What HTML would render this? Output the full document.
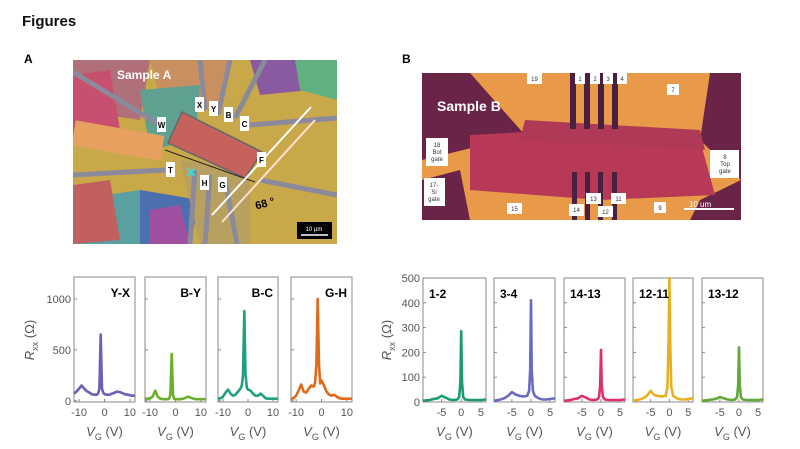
<!DOCTYPE html>
<html><head><meta charset="utf-8">
<style>
body{margin:0;background:#fff;width:800px;height:449px;overflow:hidden;font-family:"Liberation Sans",sans-serif;}
svg{position:absolute;left:0;top:0}
</style></head>
<body>
<svg id="fig" width="800" height="449" xmlns="http://www.w3.org/2000/svg">
<text x="22" y="26" font-size="15" font-weight="bold" fill="#111">Figures</text>
<text x="24" y="63" font-size="12" font-weight="bold">A</text>
<text x="402" y="63" font-size="12" font-weight="bold">B</text>
<!-- Sample A micrograph -->
<g>
<clipPath id="ca"><rect x="73" y="60" width="264" height="184"/></clipPath>
<g clip-path="url(#ca)">
<rect x="73" y="60" width="264" height="184" fill="#c9a84a"/>
<polygon points="73,60 150,60 140,120 73,110" fill="#b0707a"/>
<polygon points="73,75 110,70 120,130 73,140" fill="#c8506e"/>
<polygon points="150,60 230,60 220,110 160,100" fill="#c89060"/>
<polygon points="250,60 300,60 310,90 260,95" fill="#8a5aa0"/>
<polygon points="295,60 337,60 337,100 300,90" fill="#60b080"/>
<polygon points="140,90 200,85 195,140 150,150" fill="#60a090"/>
<polygon points="73,200 140,190 150,244 73,244" fill="#5aa0a0"/>
<polygon points="140,190 200,200 190,244 140,244" fill="#4a70b0"/>
<polygon points="150,210 180,205 190,244 150,244" fill="#a050a0"/>
<polygon points="180,160 250,170 250,244 200,244" fill="#b8a060"/>
<polygon points="73,185 110,180 120,240 73,244" fill="#c06060"/>
<rect x="73" y="128" width="90" height="25" fill="#e8a060" transform="rotate(10 118 140)"/>
<g stroke="#8a8a9a" stroke-width="5" fill="none">
<line x1="73" y1="72" x2="160" y2="125"/><line x1="73" y1="175" x2="165" y2="170"/>
<line x1="200" y1="60" x2="205" y2="110"/><line x1="230" y1="60" x2="218" y2="115"/>
<line x1="265" y1="60" x2="235" y2="118"/><line x1="250" y1="125" x2="337" y2="118"/>
<line x1="190" y1="244" x2="195" y2="170"/><line x1="205" y1="244" x2="210" y2="175"/>
<line x1="237" y1="244" x2="225" y2="180"/><line x1="260" y1="180" x2="337" y2="195"/>
</g>
<polygon points="182,112 262,152 245,178 168,143" fill="#c5625e" stroke="#666" stroke-width="1.5"/>
<line x1="165" y1="150" x2="255" y2="182" stroke="#222" stroke-width="1"/>
<line x1="212" y1="215" x2="311" y2="107" stroke="#fff" stroke-width="2"/>
<line x1="222" y1="222" x2="315" y2="120" stroke="#ffe0d0" stroke-width="2"/>
<text x="186" y="178" font-size="17" fill="#30e0e0" font-weight="bold">×</text>
<text x="117" y="79" font-size="12" font-weight="bold" fill="#fff">Sample A</text>
<g font-size="8" font-weight="bold" text-anchor="middle">
<rect x="195" y="97" width="9" height="15" fill="#fff"/><text x="199.5" y="108">X</text>
<rect x="209" y="101" width="9" height="15" fill="#fff"/><text x="213.5" y="112">Y</text>
<rect x="224" y="107" width="9" height="15" fill="#fff"/><text x="228.5" y="118">B</text>
<rect x="240" y="116" width="9" height="15" fill="#fff"/><text x="244.5" y="127">C</text>
<rect x="157" y="117" width="9" height="15" fill="#fff"/><text x="161.5" y="128">W</text>
<rect x="257" y="152" width="9" height="15" fill="#fff"/><text x="261.5" y="163">F</text>
<rect x="166" y="162" width="9" height="15" fill="#fff"/><text x="170.5" y="173">T</text>
<rect x="200" y="175" width="9" height="15" fill="#fff"/><text x="204.5" y="186">H</text>
<rect x="218" y="177" width="9" height="15" fill="#fff"/><text x="222.5" y="188">G</text>
</g>
<text x="255" y="207" font-size="11" font-weight="bold" transform="rotate(-15 265 203)">68 °</text>
<rect x="297" y="222" width="35" height="17" fill="#000"/>
<text x="314" y="231" font-size="6" fill="#fff" text-anchor="middle">10 μm</text>
<line x1="301" y1="235" x2="328" y2="235" stroke="#fff" stroke-width="1.5"/>
</g></g>
<!-- Sample B micrograph -->
<g>
<clipPath id="cb"><rect x="422" y="73" width="319" height="147"/></clipPath>
<g clip-path="url(#cb)">
<rect x="422" y="73" width="319" height="147" fill="#e89a48"/>
<polygon points="422,73 470,73 525,135 422,160" fill="#6a2448"/>
<polygon points="422,180 460,170 470,220 422,220" fill="#6a2448"/>
<polygon points="710,73 741,73 741,180 700,140" fill="#6a2448"/>
<polygon points="700,200 741,180 741,220 690,220" fill="#6a2448"/>
<polygon points="470,135 560,130 700,140 715,195 600,200 470,190" fill="#b83858"/>
<polygon points="525,120 700,130 705,150 520,140" fill="#b03a56"/>
<g fill="#4a2040">
<rect x="570" y="73" width="6" height="56"/><rect x="584" y="73" width="6" height="56"/><rect x="598" y="73" width="6" height="56"/><rect x="612" y="73" width="6" height="56"/>
<rect x="572" y="172" width="5" height="48"/><rect x="585" y="172" width="5" height="48"/><rect x="598" y="172" width="5" height="48"/><rect x="612" y="172" width="5" height="48"/>
</g>
<text x="437" y="111" font-size="14" font-weight="bold" fill="#fff">Sample B</text>
<g font-size="6" text-anchor="middle" fill="#333">
<rect x="527" y="73" width="15" height="11" fill="#fff"/><text x="534.5" y="81">19</text>
<rect x="575" y="73" width="10" height="11" fill="#fff"/><text x="580" y="81">1</text>
<rect x="590" y="73" width="10" height="11" fill="#fff"/><text x="595" y="81">2</text>
<rect x="603" y="73" width="10" height="11" fill="#fff"/><text x="608" y="81">3</text>
<rect x="617" y="73" width="10" height="11" fill="#fff"/><text x="622" y="81">4</text>
<rect x="667" y="84" width="12" height="11" fill="#fff"/><text x="673" y="92">7</text>
<rect x="426" y="138" width="22" height="28" fill="#fff"/><text x="437" y="147">18</text><text x="437" y="154">Bot</text><text x="437" y="161">gate</text>
<rect x="424" y="178" width="21" height="28" fill="#fff"/><text x="434" y="187">17-</text><text x="434" y="194">Si</text><text x="434" y="201">gate</text>
<rect x="710" y="150" width="29" height="28" fill="#fff"/><text x="725" y="159">8</text><text x="725" y="166">Top</text><text x="725" y="173">gate</text>
<rect x="507" y="203" width="15" height="11" fill="#fff"/><text x="514.5" y="211">15</text>
<rect x="569" y="204" width="15" height="12" fill="#fff"/><text x="576.5" y="212">14</text>
<rect x="586" y="193" width="15" height="11" fill="#fff"/><text x="593.5" y="201">13</text>
<rect x="598" y="206" width="15" height="11" fill="#fff"/><text x="605.5" y="214">12</text>
<rect x="611" y="193" width="15" height="11" fill="#fff"/><text x="618.5" y="201">11</text>
<rect x="654" y="202" width="12" height="11" fill="#fff"/><text x="660" y="210">9</text>
</g>
<text x="700" y="207" font-size="8" fill="#fff" text-anchor="middle">10 um</text>
<line x1="684" y1="209" x2="734" y2="209" stroke="#fff" stroke-width="2"/>
</g></g>
<g id="charts"></g>
</svg>
<script>
// ---- Sample A data (V_G in V, R_xx in ohm) ----
const xA = [-12,-11,-10,-9,-8,-7,-6,-5,-4,-3,-2.5,-2,-1.5,-1,-0.5,0,1,2,3,4,5,6,7,8,9,10,11,12];
const yYX = [70,90,120,150,120,95,80,65,60,60,70,120,650,120,80,65,60,60,70,80,90,85,75,65,60,55,50,50];
const yBY = [20,20,25,40,100,40,20,15,15,15,20,60,460,60,20,15,15,15,20,30,40,30,20,15,15,15,15,15];
const yBC = [20,25,40,80,110,70,50,60,90,120,150,250,880,260,130,110,100,70,50,50,70,50,25,20,20,20,20,20];
const yGH = [20,25,50,100,160,90,80,120,150,140,180,350,1000,350,170,200,150,90,60,50,60,40,25,20,20,20,20,20];
const labelsA = ["Y-X","B-Y","B-C","G-H"];
const colorsA = ["#6a62b8","#6ab02a","#20a080","#e06a1a"];
const yTicksA = [0,500,1000];
const xTicksA = [-10,0,10];
// ---- Sample B data ----
const xB = [-9.7,-8,-7,-6,-5,-4,-3,-2,-1,-0.5,-0.2,0,0.2,0.5,1,2,3,4,5,6.3];
const y12 = [5,8,12,15,25,18,10,8,10,20,80,285,80,20,10,8,8,8,8,10];
const y34 = [5,10,15,25,40,30,25,22,25,45,130,410,130,45,25,15,10,10,12,15];
const y1413 = [5,8,12,15,25,18,10,8,10,20,70,210,70,20,10,8,8,8,8,10];
const y1211 = [5,10,15,25,45,28,25,22,25,60,250,520,250,60,25,15,10,10,12,15];
const y1312 = [5,8,10,13,20,15,10,8,10,20,70,220,70,20,10,8,8,8,8,10];
const labelsB = ["1-2","3-4","14-13","12-11","13-12"];
const colorsB = ["#1a9a70","#6a6ac0","#e0306a","#e8b020","#60a838"];
const yTicksB = [0,100,200,300,400,500];
const xTicksB = [-5,0,5];

const NS="http://www.w3.org/2000/svg";
const root=document.getElementById('charts');
function mk(tag,attrs,parent){const e=document.createElementNS(NS,tag);for(const k in attrs)e.setAttribute(k,attrs[k]);(parent||root).appendChild(e);return e;}

function panel(box,xd,yd,xs,ys,color,label,yTicks,xTicks,showY,name){
  const g=mk('g',{});
  
  
  const sx=v=>box.x0+(v-xd[0])/(xd[1]-xd[0])*(box.x1-box.x0);
  const sy=v=>box.y1-(v-yd[0])/(yd[1]-yd[0])*(box.y1-box.y0);
  const fr=mk('rect',{x:box.x0,y:box.y0,width:box.x1-box.x0,height:box.y1-box.y0,fill:'none',stroke:'#888','stroke-width':1},g);
  
  
  yTicks.forEach(t=>{
    const tk=mk('line',{x1:box.x0,x2:box.x0+3,y1:sy(t),y2:sy(t),stroke:'#888'},g);
    
    
    if(showY){const tl=mk('text',{x:box.x0-3,y:sy(t)+4,'font-size':11,fill:'#555','text-anchor':'end'},g);tl.textContent=t;
      
      }
  });
  xTicks.forEach(t=>{
    const tk=mk('line',{x1:sx(t),x2:sx(t),y1:box.y1,y2:box.y1-3,stroke:'#888'},g);
    
    
    const tl=mk('text',{x:sx(t),y:box.y1+14,'font-size':11,fill:'#555','text-anchor':'middle'},g);tl.textContent=t<0?'-'+Math.abs(t):t;
    
    
  });
  const d=xs.map((v,i)=>(i?'L':'M')+sx(v).toFixed(1)+','+Math.max(box.y0,sy(ys[i])).toFixed(1)).join(' ');
  const p=mk('path',{d:d,fill:'none',stroke:color,'stroke-width':2.6,'stroke-linejoin':'round'},g);
  
  
  const lb=mk('text',{x:label.ax==='r'?box.x1-5:box.x0+6,y:box.y0+20,'font-size':12,'font-weight':'bold','text-anchor':label.ax==='r'?'end':'start'},g);
  lb.textContent=label.t;
  
  
  const xl=mk('text',{x:(box.x0+box.x1)/2,y:box.y1+34,'font-size':13,fill:'#555','text-anchor':'middle'},g);
  xl.innerHTML='<tspan font-style="italic">V</tspan><tspan font-size="9" dy="4">G</tspan><tspan dy="-4"> (V)</tspan>';
  
  
}
const boxesA=[[74,135],[145,206],[218,278],[291,352]];
const ysA=[yYX,yBY,yBC,yGH];
boxesA.forEach((b,i)=>panel({x0:b[0],x1:b[1],y0:277,y1:402},[-12,12],[-12,1215],xA,ysA[i],colorsA[i],{t:labelsA[i],ax:'r'},yTicksA,xTicksA,i===0,'chart-a-'+labelsA[i].toLowerCase()));
const boxesB=[[423,486],[494,555],[564,625],[633,693],[702,763]];
const ysB=[y12,y34,y1413,y1211,y1312];
boxesB.forEach((b,i)=>panel({x0:b[0],x1:b[1],y0:278,y1:402},[-9.7,6.3],[0,500],xB,ysB[i],colorsB[i],{t:labelsB[i],ax:'l'},yTicksB,xTicksB,i===0,'chart-b-'+labelsB[i]));
function ylab(x,y,name){const t=mk('text',{x:x,y:y,'font-size':13,fill:'#555','text-anchor':'middle',transform:'rotate(-90 '+x+' '+y+')'});
  t.innerHTML='<tspan font-style="italic">R</tspan><tspan font-size="9" dy="4">xx</tspan><tspan dy="-4"> (Ω)</tspan>';
  
  }
ylab(34,340,'y-axis-title-a');ylab(391,340,'y-axis-title-b');
</script>
</body></html>
